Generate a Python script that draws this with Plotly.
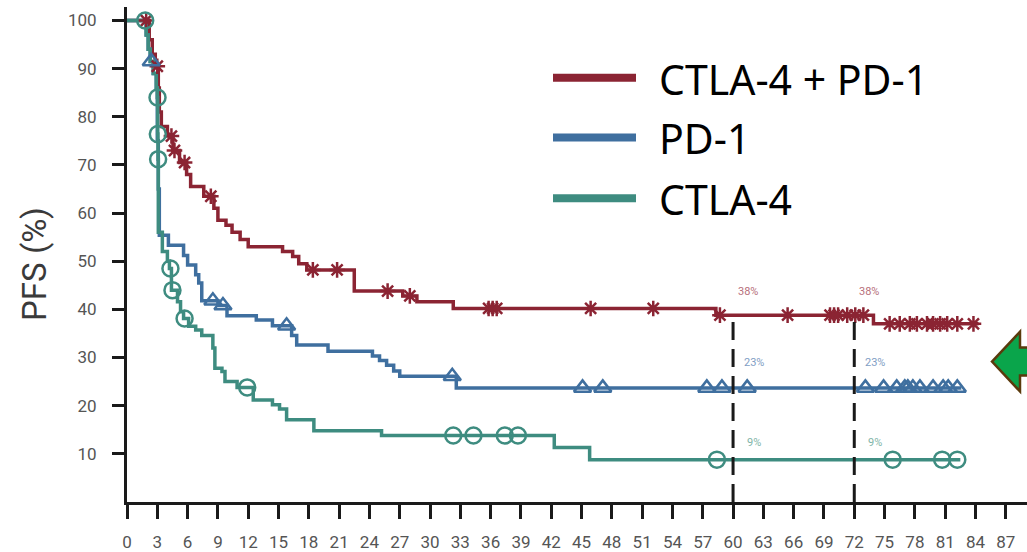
import numpy as np
import plotly.graph_objects as go

# ---------------- data ----------------
x_ticks = list(range(0, 88, 3))
y_ticks = list(range(10, 101, 10))

series_names = ["CTLA-4 + PD-1", "PD-1", "CTLA-4"]

# CTLA-4 + PD-1 (step curve: time in months, PFS %)
combo_t = [0, 2.2, 2.5, 2.8, 3.1, 3.2, 3.4, 4.0, 4.55, 5.2, 5.9, 6.3, 7.6, 8.6, 9.0, 9.8,
           10.4, 11.2, 12.0, 15.4, 16.4, 17.0, 17.8, 22.5, 27.3, 28.7, 32.3, 58.3, 73.9]
combo_s = [100, 96, 93, 90.5, 86, 81, 78, 76, 73, 70.5, 68, 65.5, 63.5, 61, 58.5, 57.5,
           56, 54.5, 53, 52, 51, 49.5, 48.2, 43.8, 42.8, 41.6, 40.2, 38.8, 37.0]
combo_end = 84.3
combo_cens = [1.9, 3.0, 4.4, 4.7, 5.7, 8.3, 18.4, 20.8, 25.8, 28.0, 35.8, 36.2, 36.6,
              45.9, 52.1, 58.7, 65.4, 69.6, 70.0, 70.4, 71.3, 72.1, 72.9, 75.5, 76.5,
              77.5, 78.2, 79.2, 79.8, 80.5, 81.2, 82.2, 83.8]

# PD-1
pd1_t = [0, 1.9, 2.1, 2.3, 2.6, 2.9, 3.0, 3.1, 3.2, 4.1, 5.6, 6.0, 6.8, 7.1, 7.4,
         9.0, 9.9, 12.8, 14.4, 16.3, 16.8, 19.9, 24.3, 25.0, 25.7, 26.4, 27.0, 32.6]
pd1_s = [100, 97, 94, 91.5, 89, 86, 75, 65, 55.4, 53.3, 51.2, 49.2, 47.2, 45.5, 41.8,
         40.8, 38.7, 37.8, 36.6, 34.6, 32.6, 31.3, 30.3, 29.4, 28.4, 27.2, 26.1, 23.7]
pd1_end = 82.6
pd1_cens = [2.4, 8.5, 9.5, 15.8, 32.2, 45.1, 47.1, 57.4, 58.9, 61.4, 73.1, 74.9, 76.2,
            77.0, 77.3, 77.8, 78.5, 79.8, 80.8, 81.3, 82.2]

# CTLA-4
ctla_t = [0, 1.9, 2.1, 2.3, 2.6, 2.9, 3.0, 3.04, 3.07, 3.1, 3.5, 4.0, 4.2, 4.4, 5.0, 5.3,
          5.6, 6.1, 6.8, 7.4, 8.5, 8.7, 9.4, 9.7, 10.9, 12.5, 14.4, 15.1, 15.8, 18.5,
          25.2, 42.3, 45.8]
ctla_s = [100, 97, 94, 91.5, 89, 86, 84, 76.4, 71.2, 56, 52, 50, 48.5, 44, 41.6, 39.5,
          38.1, 36.5, 35.7, 34.6, 32, 27.8, 27.1, 25, 23.8, 21.2, 20.2, 19.3, 17.1, 14.8,
          13.8, 11.3, 8.8]
ctla_end = 82.5
ctla_cens = [1.8, 3.02, 3.05, 3.08, 4.3, 4.5, 5.7, 11.9, 32.3, 34.3, 37.4, 38.7, 58.4,
             75.8, 80.7, 82.2]

landmarks = [60, 72]
pct_labels = [["38%", "38%"], ["23%", "23%"], ["9%", "9%"]]

# ---------------- styles ----------------
colors = ["#8b2433", "#3f6f9f", "#3e8c80"]
label_colors = ["#b7707b", "#7f9ec4", "#7fb5a9"]
symbols = ["asterisk-open", "triangle-up-open", "circle-open"]
msizes = [13, 15, 16]

W, H = 1027, 552
ML, MR, MT, MB = 127, 0, 7, 48
PW, PH = W - ML - MR, H - MT - MB


def px2paper(x, y):
    return (x - ML) / PW, (H - MB - y) / PH


def step_at(ts, ss, t):
    i = int(np.searchsorted(np.array(ts), t, side="right")) - 1
    return ss[max(i, 0)]


curves = [
    (combo_t, combo_s, combo_end, combo_cens),
    (pd1_t, pd1_s, pd1_end, pd1_cens),
    (ctla_t, ctla_s, ctla_end, ctla_cens),
]

fig = go.Figure()

for k, (ts, ss, tend, cens) in enumerate(curves):
    fig.add_trace(go.Scatter(
        x=list(ts) + [tend], y=list(ss) + [ss[-1]],
        mode="lines", line=dict(color=colors[k], width=3.5, shape="hv"),
        name=series_names[k], showlegend=False, hoverinfo="skip",
    ))
for k, (ts, ss, tend, cens) in enumerate(curves):
    fig.add_trace(go.Scatter(
        x=cens, y=[step_at(ts, ss, c) for c in cens],
        mode="markers",
        marker=dict(symbol=symbols[k], size=msizes[k], color=colors[k],
                    line=dict(color=colors[k], width=2.5)),
        showlegend=False, cliponaxis=False, hoverinfo="skip",
    ))

shapes = []
annotations = []

# landmark dashed lines
for lm in landmarks:
    top = step_at(combo_t, combo_s, lm)
    shapes.append(dict(type="line", xref="x", yref="y", x0=lm, x1=lm, y0=0, y1=top - 0.8,
                       line=dict(color="#1a1a1a", width=3, dash="18px,9px")))

# landmark percent labels
yshifts = [24, 25, 17]
dxs = [0.3, 0.9, 1.2]
for k, (ts, ss, tend, cens) in enumerate(curves):
    for j, lm in enumerate(landmarks):
        annotations.append(dict(
            x=lm + dxs[k], y=step_at(ts, ss, lm), xref="x", yref="y",
            text=pct_labels[k][j], showarrow=False, xanchor="left", yanchor="middle",
            yshift=yshifts[k], font=dict(family="Roboto", size=11, color=label_colors[k]),
        ))

# legend (drawn manually to match the large legend samples)
leg_rows = [78, 138, 199]
for k, name in enumerate(series_names):
    x0, y0 = px2paper(553, leg_rows[k])
    x1, _ = px2paper(636, leg_rows[k])
    shapes.append(dict(type="line", xref="paper", yref="paper", x0=x0, x1=x1, y0=y0, y1=y0,
                       line=dict(color=colors[k], width=8)))
    tx, ty = px2paper(657, leg_rows[k] + 1)
    annotations.append(dict(x=tx, y=ty, xref="paper", yref="paper", text=name,
                            showarrow=False, xanchor="left", yanchor="middle",
                            font=dict(family="Noto Sans", size=41, color="#000000")))

# y-axis title
tx, ty = px2paper(35, 265)
annotations.append(dict(x=tx, y=ty, xref="paper", yref="paper", text="PFS (%)",
                        textangle=-90, showarrow=False, xanchor="center", yanchor="middle",
                        font=dict(family="Roboto", size=33, color="#3a3a3a")))

# green arrow at the right edge
arrow_px = [(992, 363), (1020, 333), (1020, 349), (1032, 349), (1032, 377),
            (1020, 377), (1020, 393)]
pts = [px2paper(x, y) for x, y in arrow_px]
path = "M " + " L ".join(f"{a:.5f},{b:.5f}" for a, b in pts) + " Z"
shapes.append(dict(type="path", xref="paper", yref="paper", path=path,
                   fillcolor="#0aa54b", line=dict(color="#5a3a0c", width=2.5)))

axis_common = dict(
    showline=True, linecolor="#1a1a1a", linewidth=3, mirror=False,
    ticks="outside", tickcolor="#1a1a1a", tickwidth=2.5,
    showgrid=False, zeroline=False,
    tickfont=dict(family="Roboto", size=17, color="#555555"),
)

fig.update_layout(
    width=W, height=H,
    margin=dict(l=ML, r=MR, t=MT, b=MB, pad=0),
    plot_bgcolor="white", paper_bgcolor="white",
    showlegend=False,
    xaxis=dict(range=[0, 89.1], tickmode="array", tickvals=x_ticks,
               ticktext=[str(v) for v in x_ticks], ticklen=14, ticklabelstandoff=9,
               **axis_common),
    yaxis=dict(range=[0, 102.8], tickmode="array", tickvals=y_ticks,
               ticktext=[str(v) for v in y_ticks], ticklen=12, ticklabelstandoff=12,
               **axis_common),
    shapes=shapes,
    annotations=annotations,
)

fig.write_html("out.html")
